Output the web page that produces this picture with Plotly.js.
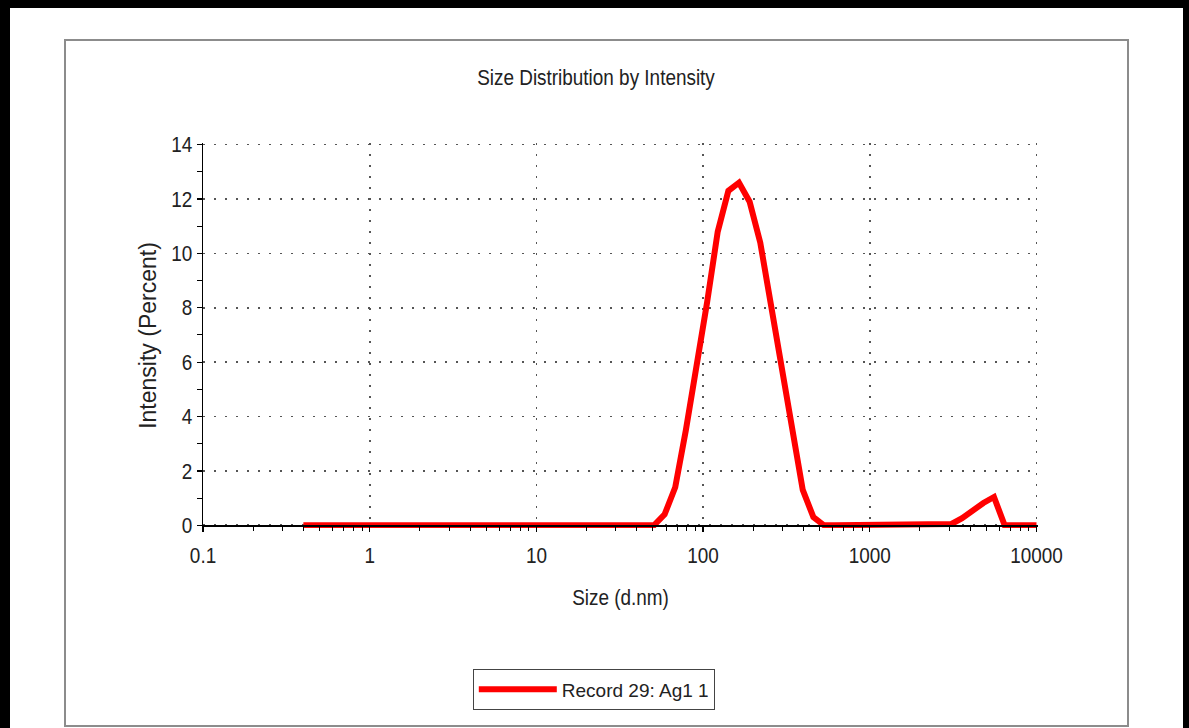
<!DOCTYPE html>
<html>
<head>
<meta charset="utf-8">
<script src="https://cdn.plot.ly/plotly-3.0.1.min.js"></script>
<style>
  html, body { margin:0; padding:0; background:#fff; }
  #wrap { position:relative; width:1189px; height:728px; overflow:hidden; }
  #chart { position:absolute; left:0; top:0; width:1189px; height:728px; }
  #outer { position:absolute; left:0; top:0; width:1189px; height:728px; box-sizing:border-box;
           border-left:10px solid #000; border-top:8px solid #000; border-right:6px solid #000; pointer-events:none; }
  #inner { position:absolute; left:64px; top:39px; width:1065px; height:688px; box-sizing:border-box;
           border:2px solid #8c8c8c; pointer-events:none; }
</style>
</head>
<body>
<div id="wrap">
  <div id="chart"></div>
  <div id="inner"></div>
  <div id="outer"></div>
</div>
<script>
// Size classes (d.nm)
const sizes = [0.4, 0.4632, 0.5365, 0.6213, 0.7195, 0.8332, 0.9649, 1.117, 1.294, 1.499,
  1.736, 2.010, 2.328, 2.696, 3.122, 3.615, 4.187, 4.849, 5.615, 6.503,
  7.531, 8.721, 10.10, 11.70, 13.54, 15.69, 18.17, 21.04, 24.36, 28.21,
  32.67, 37.84, 43.82, 50.75, 58.77, 68.06, 78.82, 91.28, 105.7, 122.4,
  141.8, 164.2, 190.1, 220.2, 255.0, 295.3, 342.0, 396.1, 458.7, 531.2,
  615.1, 712.4, 825.0, 955.4, 1106, 1281, 1484, 1718, 1990, 2305,
  2669, 3091, 3580, 4145, 4801, 5560, 6439, 7456, 8635, 10000];
// Intensity (Percent)
const intensity = [0, 0, 0, 0, 0, 0, 0, 0, 0, 0,
  0, 0, 0, 0, 0, 0, 0, 0, 0, 0,
  0, 0, 0, 0, 0, 0, 0, 0, 0, 0,
  0, 0, 0, 0, 0.4, 1.4, 3.5, 5.8, 8.2, 10.8,
  12.3, 12.6, 11.9, 10.4, 8.1, 5.7, 3.3, 1.3, 0.3, 0,
  0, 0, 0, 0, 0, 0, 0, 0, 0, 0,
  0, 0.05, 0.26, 0.55, 0.82, 1.04, 0, 0, 0, 0];
const seriesName = 'Record 29: Ag1 1';
const chartTitle = 'Size Distribution by Intensity';
const xTitle = 'Size (d.nm)';
const yTitle = 'Intensity (Percent)';

const BASE = '"Liberation Sans", Arial, Helvetica, sans-serif';
const HS = 22;          // horizontal text size (glyphs narrowed below)
const SQUEEZE = 0.86;   // horizontal narrowing of horizontal texts
const txt = { family: BASE, size: HS, color: '#222' };
const vtxt = { family: BASE, size: 23, color: '#222' };
const legTxt = { family: BASE, size: 19, color: '#222' };

const Y0 = -0.1, Y1 = 14.06;
const yPos = (0 - Y0) / (Y1 - Y0);

const trace = {
  x: sizes, y: intensity, type: 'scatter', mode: 'lines', name: seriesName,
  line: { color: '#ff0000', width: 6 }, xaxis: 'x', yaxis: 'y', hoverinfo: 'x+y'
};

const gridStyle = { showgrid: true, gridcolor: '#555', gridwidth: 1.7, griddash: '1.7px,9.3px' };

const layout = {
  width: 1189, height: 728,
  margin: { l: 203, r: 150.5, t: 143.4, b: 199.8, pad: 0 },
  paper_bgcolor: '#fff', plot_bgcolor: '#fff',
  font: txt,
  showlegend: true,
  title: { text: chartTitle, font: txt,
           xref: 'container', yref: 'container', x: 596 / 1189, xanchor: 'center',
           y: 1 - 77 / 728, yanchor: 'middle' },
  xaxis: Object.assign({
    type: 'log', range: [-1, 4.009], dtick: 1, tickformat: '~g',
    anchor: 'free', position: yPos,
    ticks: 'outside', ticklen: 5, tickwidth: 1.2, tickcolor: '#000',
    showline: true, linecolor: '#000', linewidth: 1.3, zeroline: false,
    minor: { dtick: 'D1', ticks: 'outside', ticklen: 4, tickwidth: 1, tickcolor: '#000', showgrid: false },
    tickfont: txt, ticklabelstandoff: 5,
    title: { text: xTitle, font: txt, standoff: 22 },
    automargin: false, fixedrange: true
  }, gridStyle),
  xaxis2: {
    type: 'log', range: [-1, 4.009], dtick: 1, overlaying: 'x', anchor: 'free', position: yPos, side: 'bottom',
    ticks: 'inside', ticklen: 5, tickwidth: 1.2, tickcolor: '#000', showticklabels: false,
    showline: false, showgrid: false, zeroline: false,
    minor: { dtick: 'D1', ticks: 'inside', ticklen: 4, tickwidth: 1, tickcolor: '#000', showgrid: false },
    fixedrange: true
  },
  yaxis: Object.assign({
    range: [Y0, Y1], dtick: 2, tick0: 0,
    ticks: 'outside', ticklen: 5, tickwidth: 1.2, tickcolor: '#000',
    showline: true, linecolor: '#000', linewidth: 1.3, zeroline: false,
    minor: { dtick: 1, tick0: 0, ticks: 'outside', ticklen: 5, tickwidth: 1, tickcolor: '#000', showgrid: false },
    tickfont: txt, ticklabelstandoff: 0,
    title: { text: yTitle, font: vtxt, standoff: 4 },
    automargin: false, fixedrange: true
  }, gridStyle),
  yaxis2: {
    range: [Y0, Y1], dtick: 2, tick0: 0, overlaying: 'y', anchor: 'x', side: 'left',
    ticks: 'inside', ticklen: 5, tickwidth: 1.2, tickcolor: '#000', showticklabels: false,
    showline: false, showgrid: false, zeroline: false,
    minor: { dtick: 1, tick0: 0, ticks: 'inside', ticklen: 5, tickwidth: 1, tickcolor: '#000', showgrid: false },
    fixedrange: true
  },
  legend: {
    xref: 'container', yref: 'container', x: 594 / 1189, xanchor: 'center',
    y: 1 - 669 / 728, yanchor: 'top', orientation: 'h',
    bgcolor: '#fff', bordercolor: '#444', borderwidth: 1.3,
    font: legTxt, itemwidth: 78
  }
};

function narrowTexts() {
  const nodes = document.querySelectorAll('#chart .g-gtitle text, #chart .xtick text, #chart .ytick text, #chart .g-xtitle text');
  nodes.forEach(function (t) {
    const w = t.getComputedTextLength();
    if (w > 0) {
      t.setAttribute('textLength', (w * SQUEEZE).toFixed(2));
      t.setAttribute('lengthAdjust', 'spacingAndGlyphs');
    }
  });
}

Plotly.newPlot('chart', [trace], layout, { displayModeBar: false, staticPlot: true }).then(narrowTexts);
</script>
</body>
</html>
